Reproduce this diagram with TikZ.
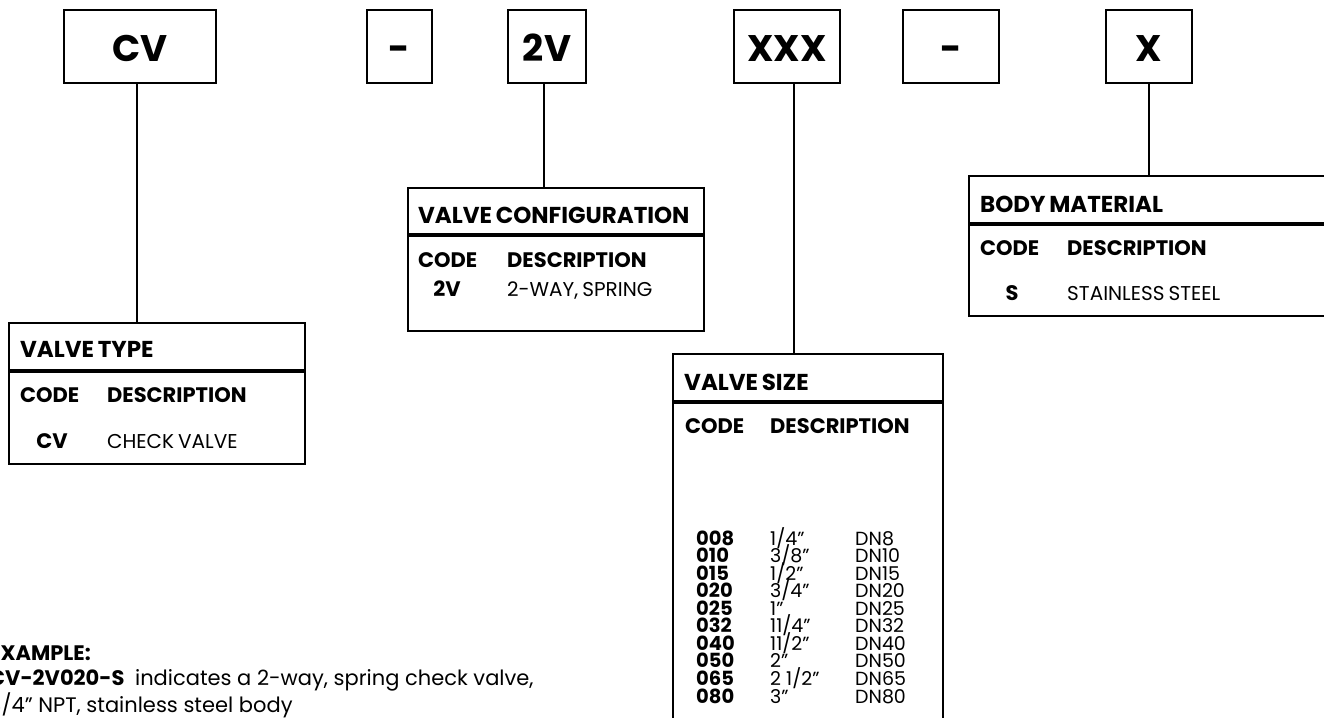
\documentclass[tikz,border=0pt]{standalone}
\usepackage{fontspec}
\setmainfont{Poppins}
\newfontfamily\tight{Poppins}[WordSpace=0.75]
\usetikzlibrary{positioning}
\newcommand{\fsz}[1]{\fontsize{#1}{#1}\selectfont}

\begin{document}
\begin{tikzpicture}[
    x=1pt, y=-1pt,
    codebox/.style={draw, line width=2.5pt, minimum height=73pt,
                    inner sep=0pt, text height=31pt, text depth=0pt,
                    font=\bfseries\fsz{37}},
    tabcell/.style={draw, line width=2pt, anchor=north west,
                    inner sep=0pt},
    headtxt/.style={anchor=base west, inner sep=0pt,
                    font=\tight\bfseries\fsz{23}},
    coltxt/.style={anchor=base west, inner sep=0pt,
                   font=\tight\bfseries\fsz{21}},
    celltxt/.style={anchor=base west, inner sep=0pt,
                    font=\tight\fsz{20}},
    codetxt/.style={anchor=base, inner sep=0pt,
                    font=\bfseries\fsz{21}},
    rowcode/.style={anchor=base west, inner sep=0pt,
                    font=\bfseries\fsz{19.5}},
    rowtxt/.style={anchor=base west, inner sep=0pt, font=\fsz{19}},
    link/.style={line width=2.5pt},
  ]
  \path[use as bounding box, clip] (0,0) rectangle (1324,717);

  % ── Row 0: order code ──
  \node[codebox, minimum width=152pt] at (140,46.5) (cv) {CV};
  \node[codebox, minimum width=65pt] at (399.5,46.5) (dasha) {-};
  \node[codebox, minimum width=78pt] at (547,46.5) (twov) {2V};
  \node[codebox, minimum width=106pt] at (787,46.5) (xxx) {XXX};
  \node[codebox, minimum width=96pt] at (951,46.5) (dashb) {-};
  \node[codebox, minimum width=86pt] at (1149,46.5) (xbox) {X};

  % ── Valve type ──
  \node[tabcell, minimum width=296pt, minimum height=47pt]
    at (8,322) (typehead) {};
  \node[tabcell, minimum width=296pt, minimum height=92pt]
    at (typehead.south west) (typebody) {};
  \node[headtxt] at (20,357) (typetitle) {VALVE TYPE};
  \node[coltxt] at (20,402) (typecode) {CODE};
  \node[coltxt] at (107,402) (typedesc) {DESCRIPTION};
  \node[codetxt] at (52,448) (typecv) {CV};
  \node[celltxt] at (107,448) (typecvd) {CHECK VALVE};

  % ── Valve configuration ──
  \node[tabcell, minimum width=296pt, minimum height=46pt]
    at (407,187) (cfghead) {};
  \node[tabcell, minimum width=296pt, minimum height=95pt]
    at (cfghead.south west) (cfgbody) {};
  \node[headtxt] at (418,223) (cfgtitle) {VALVE CONFIGURATION};
  \node[coltxt] at (418,267) (cfgcode) {CODE};
  \node[coltxt] at (507,267) (cfgdesc) {DESCRIPTION};
  \node[codetxt] at (447,296) (cfgtwov) {2V};
  \node[celltxt] at (507,296) (cfgtwovd) {2-WAY, SPRING};

  % ── Valve size ──
  \node[tabcell, minimum width=270pt, minimum height=47pt]
    at (672,353) (sizehead) {};
  \node[tabcell, minimum width=270pt, minimum height=360pt]
    at (sizehead.south west) (sizebody) {};
  \node[headtxt] at (684,390) (sizetitle) {VALVE SIZE};
  \node[coltxt] at (685,433) (sizecode) {CODE};
  \node[coltxt] at (770,433) (sizedesc) {DESCRIPTION};
  \foreach \c/\f/\d [count=\i from 0] in {008/{1/4”}/DN8,
      010/{3/8”}/DN10, 015/{1/2”}/DN15, 020/{3/4”}/DN20,
      025/{1”}/DN25, 032/{11/4”}/DN32, 040/{11/2”}/DN40,
      050/{2”}/DN50, 065/{2 1/2”}/DN65, 080/{3”}/DN80} {
    \node[rowcode] at (696,545+17.56*\i) (sizec\i) {\c};
    \node[rowtxt] at (770,545+17.56*\i) (sizef\i) {\f};
    \node[rowtxt] at (855,545+17.56*\i) (sized\i) {\d};
  }

  % ── Body material ──
  \node[tabcell, minimum width=380pt, minimum height=47pt]
    at (968,175) (bodyhead) {};
  \node[tabcell, minimum width=380pt, minimum height=91pt]
    at (bodyhead.south west) (bodybody) {};
  \node[headtxt] at (980,212) (bodytitle) {BODY MATERIAL};
  \node[coltxt] at (980,255) (bodycode) {CODE};
  \node[coltxt] at (1067,255) (bodydesc) {DESCRIPTION};
  \node[codetxt] at (1012,300) (bodys) {S};
  \node[celltxt] at (1067,300) (bodysd) {STAINLESS STEEL};

  % ── Example ──
  \node[anchor=base west, inner sep=0pt, align=left,
        font=\fontsize{21}{25}\selectfont] at (-11,712) (example)
    {\textbf{EXAMPLE:}\\
     \textbf{CV-2V020-S}\hspace{5pt} indicates a 2-way, spring check valve,\\
     3/4” NPT, stainless steel body};

  % ── Links ──
  \draw[link] ([xshift=-3pt]cv.south) -- ([xshift=-3pt]cv.south |- typehead.north);
  \draw[link] ([xshift=-3pt]twov.south) -- ([xshift=-3pt]twov.south |- cfghead.north);
  \draw[link] ([xshift=7pt]xxx.south) -- ([xshift=7pt]xxx.south |- sizehead.north);
  \draw[link] (xbox.south) -- (xbox.south |- bodyhead.north);

\end{tikzpicture}
\end{document}
